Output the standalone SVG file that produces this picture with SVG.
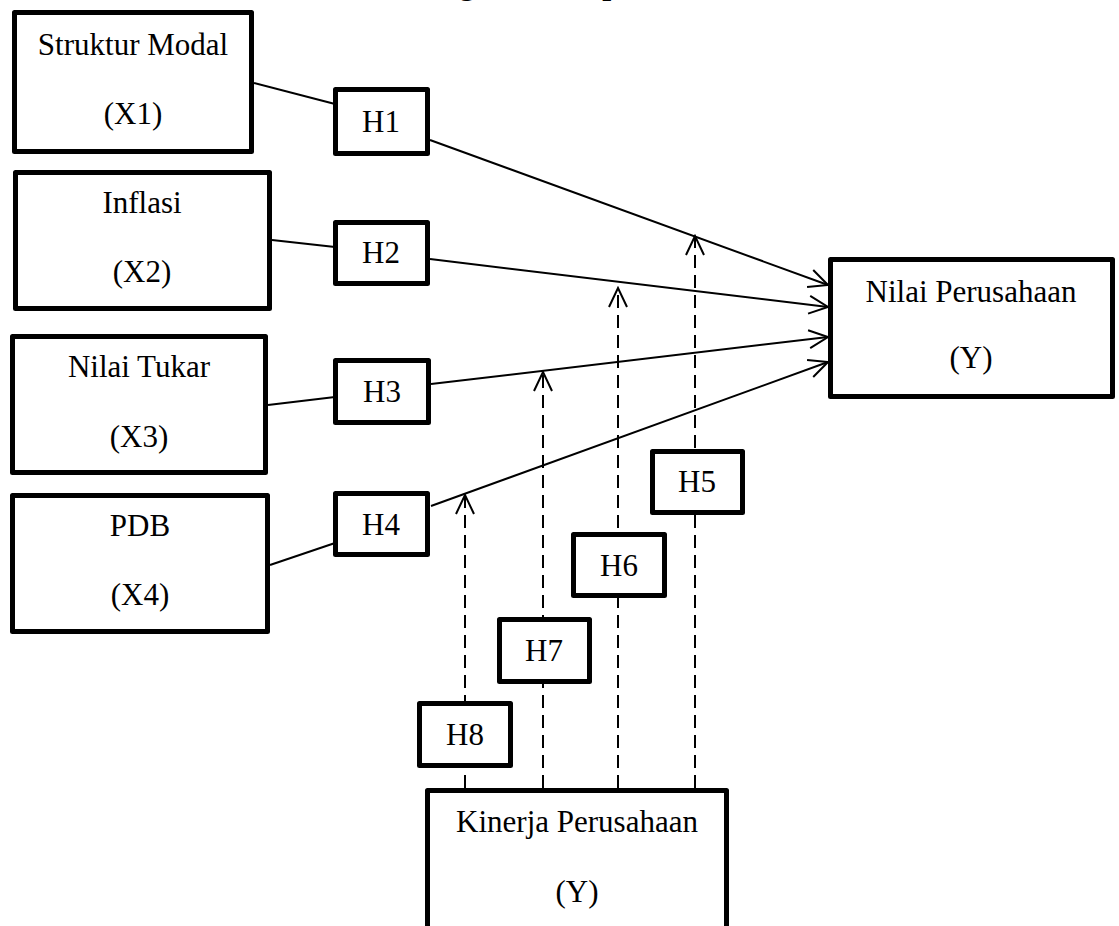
<svg xmlns="http://www.w3.org/2000/svg" width="1119" height="926" viewBox="0 0 1119 926">
<style>
  .box { fill: #fff; stroke: #000; stroke-width: 5; stroke-linejoin: round; }
  .t { font-family: "Liberation Serif", "Times New Roman", serif; font-size: 31px; fill: #000; text-anchor: middle; }
  .title { font-family: "Liberation Serif", "Times New Roman", serif; font-size: 32px; font-weight: bold; fill: #000; }
  .ln { stroke: #000; stroke-width: 2; fill: none; }
  .dash { stroke: #000; stroke-width: 2; fill: none; stroke-dasharray: 13 7; }
</style>
<defs>
  <marker id="arr" markerUnits="userSpaceOnUse" markerWidth="24" markerHeight="24" viewBox="-22 -12 24 24" refX="0" refY="0" orient="auto">
    <path d="M-19,-9 L0,0 L-19,9" fill="none" stroke="#000" stroke-width="2"/>
  </marker>
</defs>
<rect width="1119" height="926" fill="#fff"/>
<text class="title" x="372" y="-6">Kerangka Konseptual</text>

<g id="connectors">
  <line class="ln" x1="254" y1="83" x2="335" y2="104"/>
  <line class="ln" x1="272" y1="240" x2="335" y2="247"/>
  <line class="ln" x1="268" y1="405" x2="335" y2="397"/>
  <line class="ln" x1="270" y1="565" x2="335" y2="543"/>
  <line class="ln" x1="430" y1="140" x2="828" y2="285" marker-end="url(#arr)"/>
  <line class="ln" x1="430" y1="259" x2="828" y2="307" marker-end="url(#arr)"/>
  <line class="ln" x1="431" y1="384" x2="828" y2="337" marker-end="url(#arr)"/>
  <line class="ln" x1="431" y1="506" x2="828" y2="362" marker-end="url(#arr)"/>
  <line class="dash" x1="465" y1="788" x2="465" y2="495" marker-end="url(#arr)"/>
  <line class="dash" x1="543" y1="788" x2="543" y2="372" marker-end="url(#arr)"/>
  <line class="dash" x1="618" y1="788" x2="618" y2="288" marker-end="url(#arr)"/>
  <line class="dash" x1="695" y1="788" x2="695" y2="236" marker-end="url(#arr)"/>
</g>

<g id="x1">
  <rect class="box" x="14.5" y="12.5" width="237" height="139"/>
  <text class="t" x="133" y="55">Struktur Modal</text>
  <text class="t" x="133" y="124">(X1)</text>
</g>
<g id="x2">
  <rect class="box" x="15.5" y="172.5" width="254" height="136"/>
  <text class="t" x="142" y="213">Inflasi</text>
  <text class="t" x="142" y="282">(X2)</text>
</g>
<g id="x3">
  <rect class="box" x="12.5" y="336.5" width="253" height="136"/>
  <text class="t" x="139" y="377">Nilai Tukar</text>
  <text class="t" x="139" y="447">(X3)</text>
</g>
<g id="x4">
  <rect class="box" x="12.5" y="495.5" width="255" height="136"/>
  <text class="t" x="140" y="536">PDB</text>
  <text class="t" x="140" y="605">(X4)</text>
</g>
<g id="h1">
  <rect class="box" x="335.5" y="89.5" width="92" height="64"/>
  <text class="t" x="381" y="132">H1</text>
</g>
<g id="h2">
  <rect class="box" x="335.5" y="222.5" width="92" height="61"/>
  <text class="t" x="381" y="263">H2</text>
</g>
<g id="h3">
  <rect class="box" x="335.5" y="360.5" width="93" height="62"/>
  <text class="t" x="382" y="402">H3</text>
</g>
<g id="h4">
  <rect class="box" x="335.5" y="493.5" width="92" height="61"/>
  <text class="t" x="381" y="535">H4</text>
</g>
<g id="h5">
  <rect class="box" x="652.5" y="451.5" width="90" height="61"/>
  <text class="t" x="697" y="492">H5</text>
</g>
<g id="h6">
  <rect class="box" x="573.5" y="534.5" width="91" height="61"/>
  <text class="t" x="619" y="576">H6</text>
</g>
<g id="h7">
  <rect class="box" x="499.5" y="619.5" width="90" height="62"/>
  <text class="t" x="544" y="661">H7</text>
</g>
<g id="h8">
  <rect class="box" x="419.5" y="703.5" width="91" height="62"/>
  <text class="t" x="465" y="745">H8</text>
</g>
<g id="y-nilai">
  <rect class="box" x="830.5" y="259.5" width="282" height="137"/>
  <text class="t" x="971" y="302">Nilai Perusahaan</text>
  <text class="t" x="971" y="368">(Y)</text>
</g>
<g id="z-kinerja">
  <rect class="box" x="427.5" y="790.5" width="299" height="200"/>
  <text class="t" x="577" y="832">Kinerja Perusahaan</text>
  <text class="t" x="577" y="902">(Y)</text>
</g>
</svg>
